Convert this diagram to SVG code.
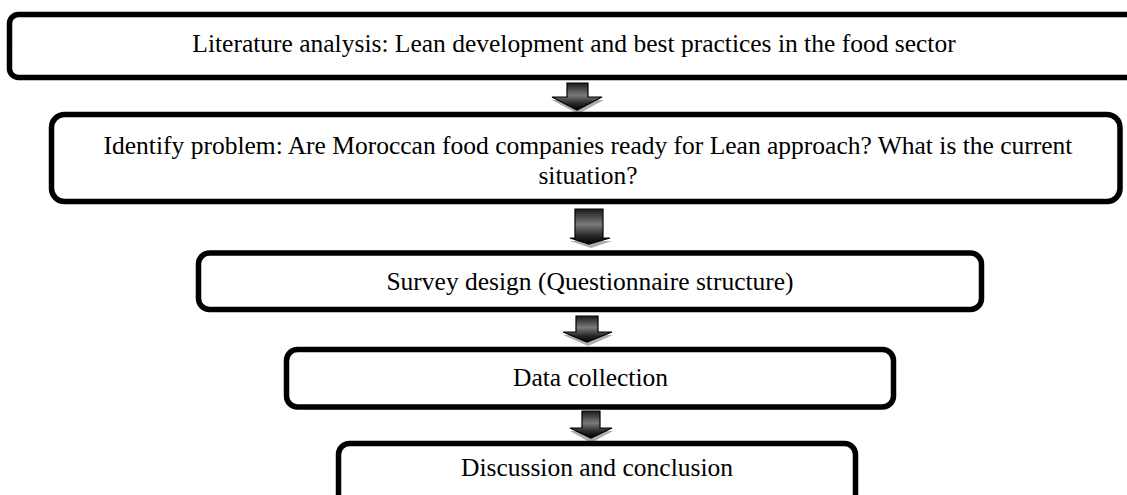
<svg xmlns="http://www.w3.org/2000/svg" width="1127" height="495" viewBox="0 0 1127 495">
<style>
.box{fill:#fff;stroke:#000;stroke-width:5.5}
.t{font-family:"Liberation Serif","Times New Roman",serif;font-size:25.5px;fill:#000;text-anchor:middle}
.arr{stroke:#000;stroke-width:1.2}
.sh{fill:#9a9a9a;opacity:.8}
</style>
<defs>
<linearGradient id="g" x1="0" y1="0" x2="0" y2="1">
<stop offset="0" stop-color="#1a1a1a"/>
<stop offset="0.45" stop-color="#7a7a7a"/>
<stop offset="0.75" stop-color="#2a2a2a"/>
<stop offset="1" stop-color="#000"/>
</linearGradient>
</defs>
<rect width="1127" height="495" fill="#fff"/>
<g id="connectors">
<g id="a1">
<polygon class="sh" points="567,86 588,86 588,100 604,100 578,114 552,100 567,100"/>
<polygon class="arr" fill="url(#g)" points="567,83 588,83 588,97 602,97 577,110 552,97 567,97"/>
</g>
<g id="a2">
<polygon class="sh" points="575,212 603,212 603,241 612,241 591,248 570,241 575,241"/>
<polygon class="arr" fill="url(#g)" points="575,209 603,209 603,238 610,238 589,244 570,238 575,238"/>
</g>
<g id="a3">
<polygon class="sh" points="576,319 598,319 598,335 613,335 588,346 563,335 576,335"/>
<polygon class="arr" fill="url(#g)" points="576,316 598,316 598,332 612,332 587,342 563,332 576,332"/>
</g>
<g id="a4">
<polygon class="sh" points="582,414 600,414 600,431 613,431 591,443 570,431 582,431"/>
<polygon class="arr" fill="url(#g)" points="582,411 600,411 600,428 612,428 591,438 570,428 582,428"/>
</g>
</g>
<g id="n1">
<rect class="box" x="9.5" y="14.5" width="1160" height="63" rx="9"/>
<text class="t" x="574" y="52">Literature analysis: Lean development and best practices in the food sector</text>
</g>
<g id="n2">
<rect class="box" x="51.5" y="114.5" width="1068.5" height="87" rx="13"/>
<text class="t" x="588" y="154">Identify problem: Are Moroccan food companies ready for Lean approach? What is the current</text>
<text class="t" x="588" y="184">situation?</text>
</g>
<g id="n3">
<rect class="box" x="198.5" y="253" width="783" height="56.5" rx="11"/>
<text class="t" x="590" y="290">Survey design (Questionnaire structure)</text>
</g>
<g id="n4">
<rect class="box" x="286.5" y="349.5" width="607" height="57.5" rx="11"/>
<text class="t" x="590.5" y="386">Data collection</text>
</g>
<g id="n5">
<rect class="box" x="338.5" y="443.5" width="517" height="70" rx="11"/>
<text class="t" x="597" y="476">Discussion and conclusion</text>
</g>
</svg>
